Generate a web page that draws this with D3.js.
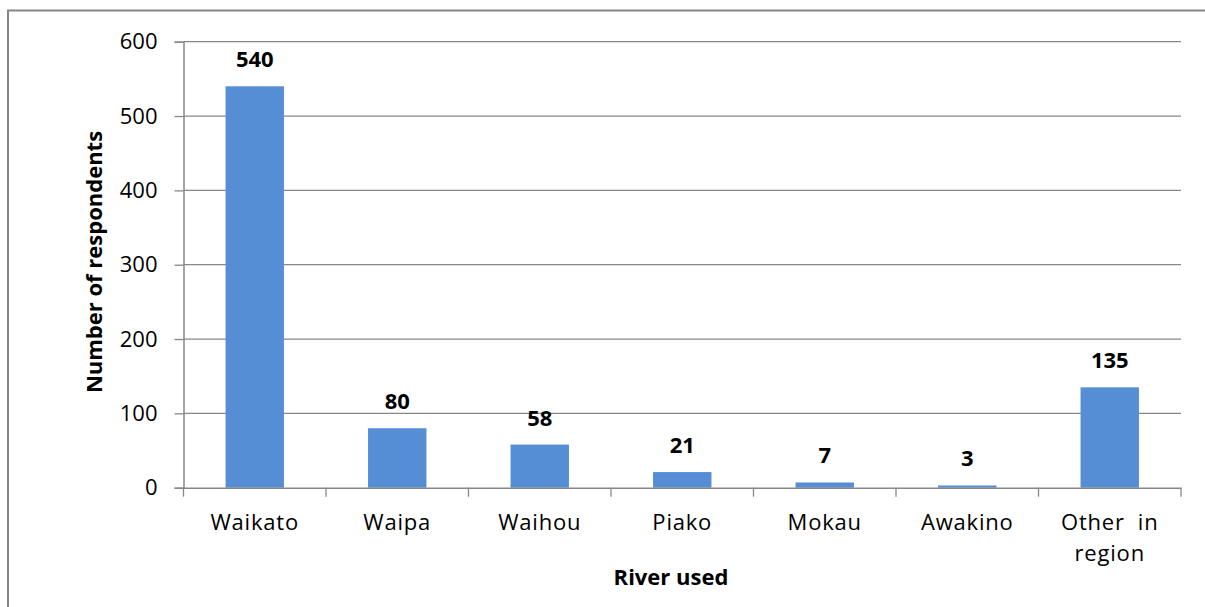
<!DOCTYPE html>
<html>
<head>
<meta charset="utf-8">
<script src="https://cdn.jsdelivr.net/npm/d3@7"></script>
<style>
  html, body { margin: 0; padding: 0; background: #fff; }
  svg { display: block; }
  text { font-family: "Open Sans", "Liberation Sans", sans-serif; fill: #000; }
</style>
</head>
<body>
<svg id="chart" width="1205" height="607"></svg>
<script>
const categories = ["Waikato", "Waipa", "Waihou", "Piako", "Mokau", "Awakino", "Other in region"];
const values = [540, 80, 58, 21, 7, 3, 135];
const yTicks = [0, 100, 200, 300, 400, 500, 600];
const xTitle = "River used";
const yTitle = "Number of respondents";

(function () {
const svg = d3.select("#chart");
const W = 1205, H = 607;
const pLeft = 183.5, pRight = 1181, pTop = 41.7, pBottom = 487.7;
const FS = 22;

// outer border
svg.append("rect").attr("x", 8).attr("y", 10.5).attr("width", W + 10).attr("height", H + 10)
  .attr("fill", "none").attr("stroke", "#868686").attr("stroke-width", 2);

const x = d3.scaleBand().domain(categories).range([pLeft, pRight]).padding(0);
const y = d3.scaleLinear().domain([0, 600]).range([pBottom, pTop]);

// gridlines
svg.append("g").selectAll("line").data(yTicks.filter(d => d > 0)).join("line")
  .attr("x1", pLeft).attr("x2", pRight)
  .attr("y1", d => y(d)).attr("y2", d => y(d))
  .attr("stroke", "#888").attr("stroke-width", 1.3);

// y axis
const yAxis = svg.append("g").attr("transform", `translate(${pLeft},0)`)
  .call(d3.axisLeft(y).tickValues(yTicks).tickSize(9).tickPadding(17).tickFormat(d3.format("d")));
yAxis.select(".domain").attr("stroke", "#888").attr("stroke-width", 1.5);
yAxis.selectAll(".tick line").attr("stroke", "#888").attr("stroke-width", 1.3);
yAxis.selectAll("text").attr("font-size", FS).attr("font-family", "'Open Sans', sans-serif").attr("fill", "#000");

// bars
const bw = x.bandwidth() * 0.41;
svg.append("g").selectAll("rect").data(values).join("rect")
  .attr("x", (d, i) => x(categories[i]) + x.bandwidth() / 2 - bw / 2)
  .attr("width", bw)
  .attr("y", d => y(d))
  .attr("height", d => y(0) - y(d))
  .attr("fill", "#558ed5");

// x axis
const xAxis = svg.append("g").attr("transform", `translate(0,${pBottom})`)
  .call(d3.axisBottom(x).tickSize(0).tickFormat(""));
xAxis.select(".domain").attr("stroke", "#888").attr("stroke-width", 1.5);
xAxis.selectAll(".tick").remove();
const bounds = categories.map(c => x(c)).concat([pRight]);
svg.append("g").selectAll("line").data(bounds).join("line")
  .attr("x1", d => d).attr("x2", d => d)
  .attr("y1", pBottom).attr("y2", pBottom + 9)
  .attr("stroke", "#888").attr("stroke-width", 1.3);

// category labels
const labels = svg.append("g").selectAll("text").data(categories).join("text")
  .attr("x", d => x(d) + x.bandwidth() / 2)
  .attr("y", 530)
  .attr("text-anchor", "middle")
  .attr("font-size", FS)
  .attr("letter-spacing", 0.8)
  .style("white-space", "pre");
labels.each(function (d) {
  const t = d3.select(this);
  if (d === "Other in region") {
    t.append("tspan").attr("x", x(d) + x.bandwidth() / 2).attr("dy", 0).text("Other  in");
    t.append("tspan").attr("x", x(d) + x.bandwidth() / 2).attr("dy", 31).text("region");
  } else {
    t.text(d);
  }
});

// data labels
svg.append("g").selectAll("text").data(values).join("text")
  .attr("x", (d, i) => x(categories[i]) + x.bandwidth() / 2)
  .attr("y", d => y(d) - 19)
  .attr("text-anchor", "middle")
  .attr("font-size", FS).attr("font-weight", "bold")
  .text(d => d);

// axis titles
svg.append("text").attr("x", 671).attr("y", 585)
  .attr("text-anchor", "middle").attr("font-size", FS).attr("font-weight", "bold")
  .text(xTitle);
svg.append("text")
  .attr("transform", "translate(102,262) rotate(-90)")
  .attr("text-anchor", "middle").attr("font-size", FS).attr("font-weight", "bold")
  .text(yTitle);
})();
</script>
</body>
</html>
